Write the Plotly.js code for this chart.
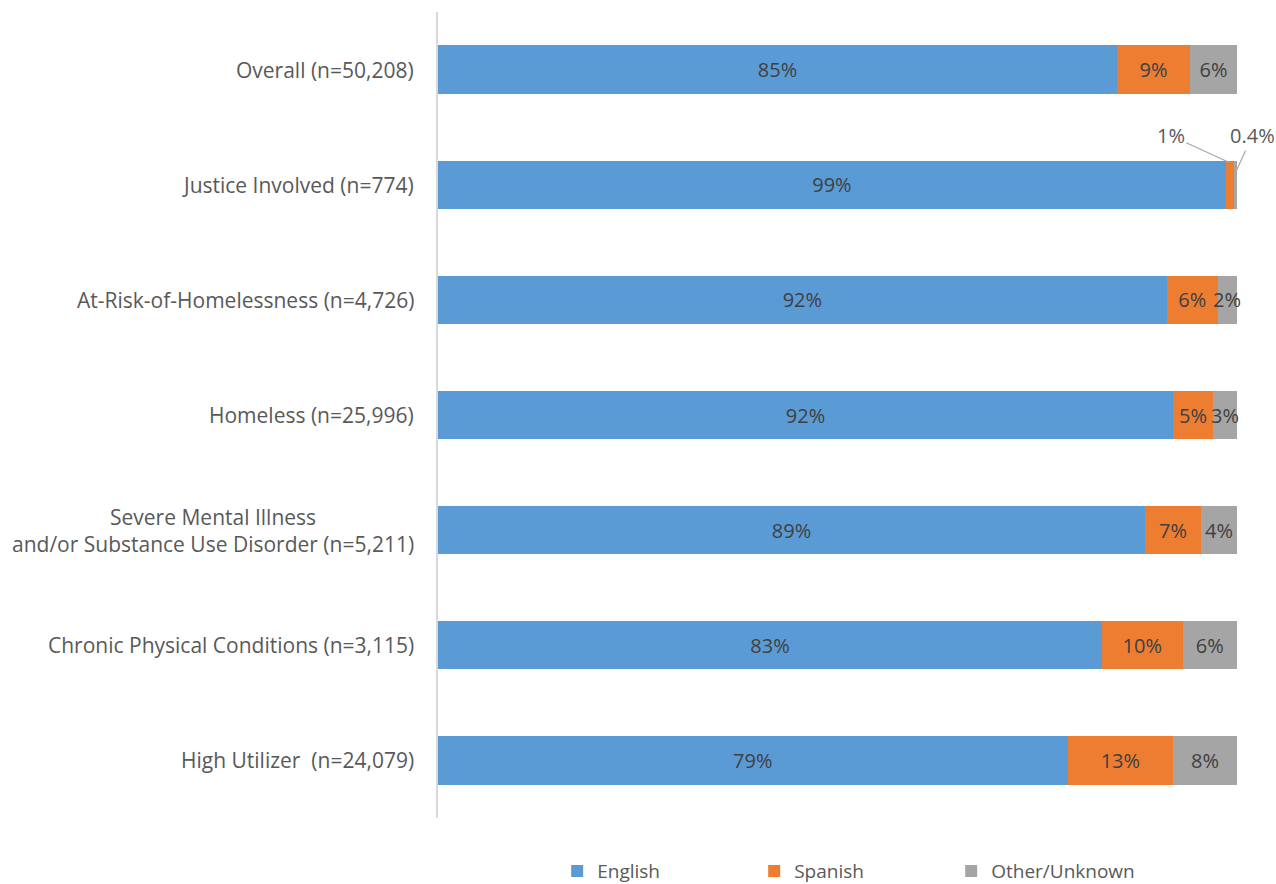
<!DOCTYPE html>
<html>
<head>
<meta charset="utf-8">
<script src="https://cdn.plot.ly/plotly-3.0.1.min.js"></script>
<style>html,body{margin:0;padding:0;background:#fff;}#chart{width:1276px;height:884px;}</style>
</head>
<body>
<div id="chart"></div>
<script>
const categories = [
  "Overall (n=50,208)",
  "Justice Involved (n=774)",
  "At-Risk-of-Homelessness (n=4,726)",
  "Homeless (n=25,996)",
  "Severe Mental Illness<br>and/or Substance Use Disorder (n=5,211)",
  "Chronic Physical Conditions (n=3,115)",
  "High Utilizer  (n=24,079)"
];
const english = [85.0, 98.6, 91.2, 92.0, 88.5, 83.1, 78.8];
const spanish = [9.1, 1.0, 6.4, 5.0, 7.0, 10.1, 13.2];
const other   = [5.9, 0.4, 2.4, 3.0, 4.5, 6.8, 8.0];
const englishLabels = ["85%", "99%", "92%", "92%", "89%", "83%", "79%"];
const spanishLabels = ["9%", "1%", "6%", "5%", "7%", "10%", "13%"];
const otherLabels   = ["6%", "0.4%", "2%", "3%", "4%", "6%", "8%"];
const seriesNames = ["English", "Spanish", "Other/Unknown"];
const colors = ["#5B9BD5", "#ED7D31", "#A5A5A5"];

const FONT = "Open Sans, DejaVu Sans, sans-serif";
const TXT = "#595959";
const LABEL = "#404040";

// segments too narrow for Plotly's inside text get annotations instead
const NARROW = 2.6;
function insideText(vals, labels) {
  return labels.map((l, i) => (vals[i] < NARROW ? "" : l));
}

function bar(name, vals, labels, color) {
  return {
    type: "bar", orientation: "h", name: name,
    y: categories, x: vals, text: insideText(vals, labels),
    textposition: "inside", insidetextanchor: "middle", constraintext: "none",
    textangle: 0,
    textfont: {family: FONT, size: 20, color: LABEL},
    marker: {color: color, line: {width: 0}},
    width: 0.42, hoverinfo: "skip", cliponaxis: false
  };
}

const data = [
  bar(seriesNames[0], english, englishLabels, colors[0]),
  bar(seriesNames[1], spanish, spanishLabels, colors[1]),
  bar(seriesNames[2], other, otherLabels, colors[2])
];

const annotations = categories.map(c => ({
  xref: "paper", yref: "y", x: 0, y: c, xanchor: "right", yanchor: "middle",
  xshift: -22, text: c, showarrow: false, align: "center",
  font: {family: FONT, size: 21, color: TXT}
}));

// At-Risk 2% label (narrow segment, drawn centered on the segment)
annotations.push({
  xref: "x", yref: "y", x: english[2] + spanish[2] + other[2] / 2, y: categories[2],
  text: otherLabels[2], showarrow: false, xanchor: "center", yanchor: "middle",
  font: {family: FONT, size: 20, color: LABEL}
});
// outside labels with leader lines for Justice Involved small segments
annotations.push({
  xref: "x", yref: "y", x: english[1] + spanish[1] / 2, y: categories[1],
  yshift: 22, text: spanishLabels[1], showarrow: true, arrowhead: 0, arrowwidth: 1.2,
  arrowcolor: "#A6A6A6", ax: -59, ay: -27, standoff: 0,
  font: {family: FONT, size: 20, color: TXT}
});
annotations.push({
  xref: "x", yref: "y", x: english[1] + spanish[1] + other[1] / 2, y: categories[1],
  yshift: 12, text: otherLabels[1], showarrow: true, arrowhead: 0, arrowwidth: 1.2,
  arrowcolor: "#A6A6A6", ax: 17, ay: -37, standoff: 0,
  font: {family: FONT, size: 20, color: TXT}
});

const layout = {
  width: 1276, height: 884,
  margin: {l: 438, r: 39, t: 12, b: 66, autoexpand: false},
  paper_bgcolor: "#ffffff", plot_bgcolor: "#ffffff",
  barmode: "stack", bargap: 0.58,
  uniformtext: {mode: "show", minsize: 20},
  showlegend: true,
  legend: {
    orientation: "h", x: 0.519, xanchor: "center", y: -0.066, yanchor: "middle",
    font: {family: FONT, size: 19, color: TXT}, entrywidth: 152, traceorder: "normal",
    itemwidth: 30
  },
  xaxis: {range: [0, 100], showgrid: false, zeroline: false, showticklabels: false, fixedrange: true},
  yaxis: {
    autorange: false, range: [6.5, -0.5], showticklabels: false, showline: true,
    linecolor: "#D9D9D9", linewidth: 2, showgrid: false, zeroline: false
  },
  annotations: annotations
};

Plotly.newPlot("chart", data, layout, {displayModeBar: false, staticPlot: true});
</script>
</body>
</html>
